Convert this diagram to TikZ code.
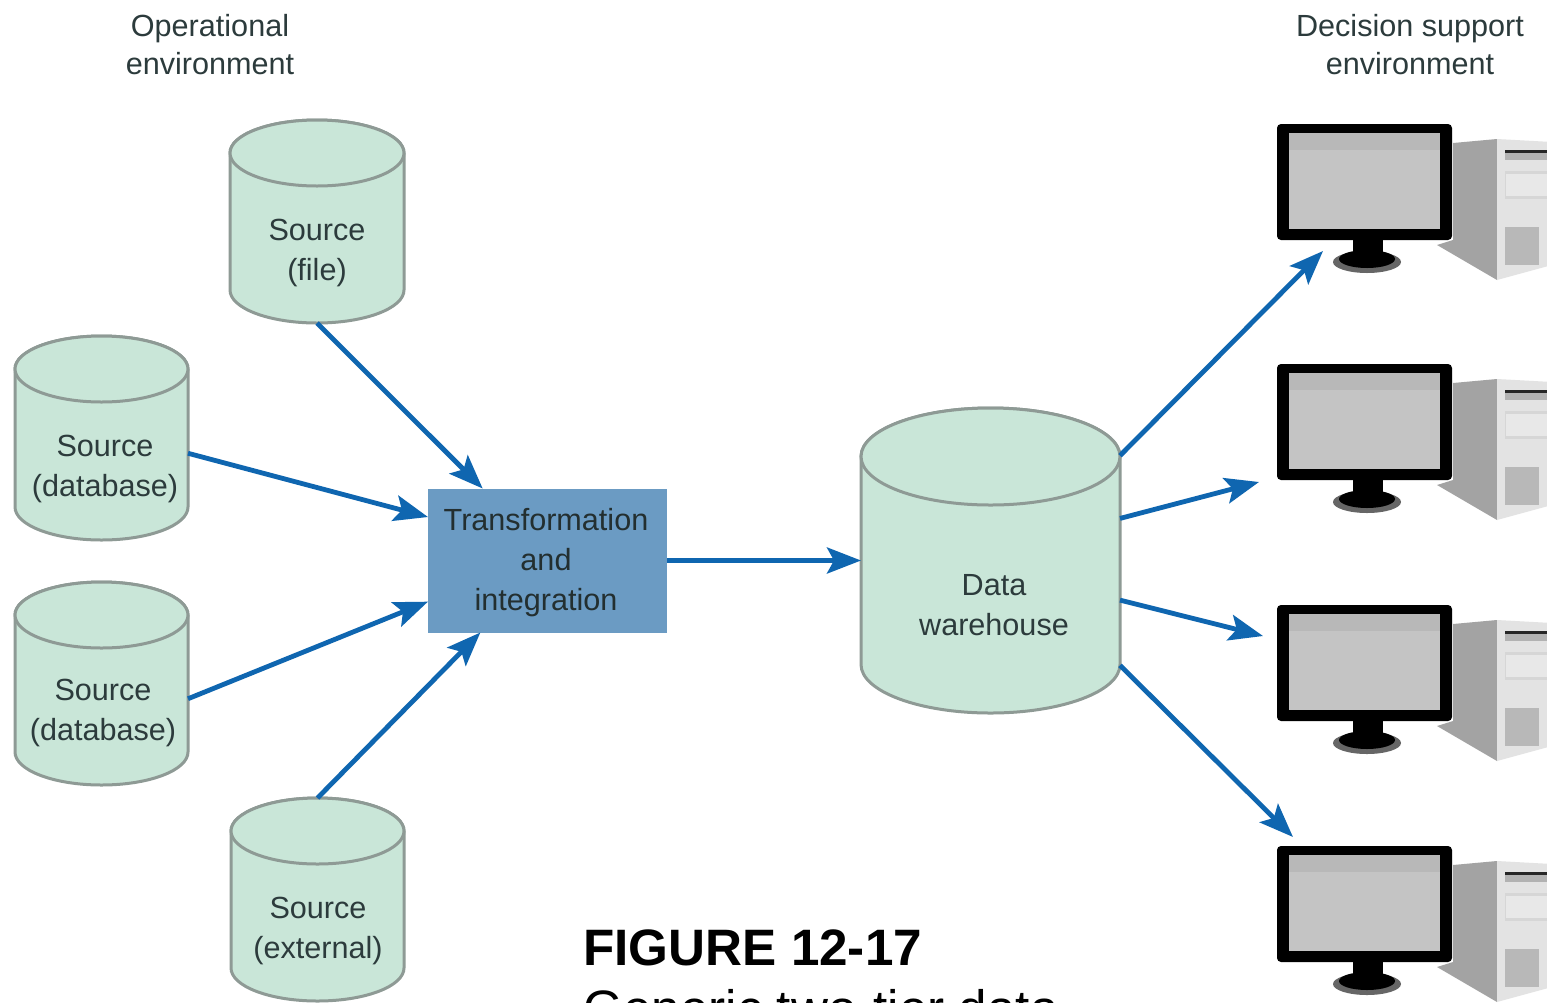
\documentclass[tikz,border=0pt]{standalone}
\usepackage{fontspec}
\setmainfont{Liberation Sans}
\usetikzlibrary{arrows.meta}
\definecolor{cylfill}{HTML}{C9E6D8}
\definecolor{cylline}{HTML}{8E9A95}
\definecolor{boxfill}{HTML}{6B9BC3}
\definecolor{arrowblue}{HTML}{0F66B0}
\definecolor{labeltext}{HTML}{2C3B3C}
\tikzset{
  x=0.5pt,y=-0.5pt,
  flow/.style={draw=arrowblue,line width=2.4pt,-{Stealth[length=17pt,width=13pt,inset=3.5pt]}},
  lbl/.style={font=\fontsize{15.3}{19}\selectfont,text=labeltext,align=center,inner sep=0pt},
  inlbl/.style={font=\fontsize{15.3}{20}\selectfont,text=labeltext,align=center,inner sep=0pt},
  cylbox/.style={inner sep=0pt,outer sep=0pt,draw=none},
  cylbody/.style={fill=cylfill,draw=cylline,line width=1.5pt},
  pcunit/.pic={
    % tower side
    \fill[black!36] (176,19) -- (220,15) -- (220,156) -- (160,121) -- (176,116) -- cycle;
    % tower front
    \fill[black!11] (220,15) -- (275,18) -- (275,141) -- (220,156) -- cycle;
    \fill[black!30] (228,26) rectangle (275,36);
    \fill[black!85] (228,25.5) rectangle (275,29);
    \fill[black!16] (228,47) rectangle (275,75);
    \fill[black!9]  (229,50) rectangle (275,72);
    \fill[black!28] (228,103) rectangle (262,141);
    % monitor
    \fill[black,rounded corners=2pt] (0,0) rectangle (175,116);
    \fill[black!23] (12,9) rectangle (163,105);
    \fill[black!28] (12,9) rectangle (163,26);
    % stand
    \fill[black!60] (90,138) ellipse [x radius=34,y radius=11];
    \fill[black] (90,135) ellipse [x radius=28,y radius=9];
    \fill[black] (76,116) rectangle (106,136);
  },
}
\newcommand{\cylinderunit}[7]{% name, x1, x2, ytop, ybot, ry, label
  \path[cylbody] (#2,#4+#6) -- (#2,#5-#6)
    arc[start angle=180,end angle=360,x radius={(#3-#2)/2},y radius=-#6]
    -- (#3,#4+#6)
    arc[start angle=0,end angle=180,x radius={(#3-#2)/2},y radius=-#6] -- cycle;
  \path[cylbody] ({(#2+#3)/2},#4+#6) ellipse [x radius={(#3-#2)/2},y radius=#6];
  \node[cylbox,minimum width={(#3-#2)*0.5pt},minimum height={(#5-#4)*0.5pt}] (#1) at ({(#2+#3)/2},{(#4+#5)/2}) {};
  \node[inlbl] (#1label) at #7;
}
\begin{document}
\begin{tikzpicture}
\path[use as bounding box] (0,0) rectangle (1547,1002);
\fill[white] (0,0) rectangle (1547,1002);
\clip (0,0) rectangle (1547,1002);

\node[lbl] (openv) at (210,45) {Operational\\environment};
\node[lbl] (dsenv) at (1410,45) {Decision support\\environment};

\cylinderunit{sa}{230}{404}{120}{323}{33}{(317,253) {Source\\(file)}}
\cylinderunit{sb}{15}{188}{336}{540}{33}{(105,469) {Source\\(database)}}
\cylinderunit{sc}{15}{188}{582}{785}{33}{(103,713) {Source\\(database)}}
\cylinderunit{sd}{231}{404}{798}{1001}{33}{(318,931) {Source\\(external)}}
\cylinderunit{dw}{861}{1120}{408}{713}{48.5}{(994,605) {Data\\warehouse}}

\node[fill=boxfill,draw=none,inner sep=0pt,outer sep=0pt,minimum width=119.5pt,minimum height=72pt] (tf) at (547.5,560.5) {};
\node[inlbl,text=labeltext!80!black] (tflabel) at (546,563) {Transformation\\and\\integration};

\pic (pca) at (1277,124) {pcunit};
\pic (pcb) at (1277,364) {pcunit};
\pic (pcc) at (1277,605) {pcunit};
\pic (pcd) at (1277,846) {pcunit};

\coordinate (ca) at (1323,251);
\coordinate (cb) at (1259,482);
\coordinate (cc) at (1263,636);
\coordinate (cd) at (1293,837);

\draw[flow] (sa.south) -- (tf.132.8);
\draw[flow] (sb.-10) -- (tf.160.6);
\draw[flow] (sc.-10) -- (tf.199.8);
\draw[flow] (sd.north) -- (tf.227.2);
\draw[flow] (tf.east) -- (dw.west);
\draw[flow] (dw.39.7) -- (ca);
\draw[flow] (dw.18.4) -- (cb);
\draw[flow] (dw.-17) -- (cc);
\draw[flow] (dw.-39.4) -- (cd);

\node[anchor=base west,inner sep=0pt,font=\fontsize{25.6}{25.6}\selectfont\bfseries,text=black] (figno) at (583,965) {FIGURE 12-17};
\node[anchor=base west,inner sep=0pt,font=\fontsize{25.6}{25.6}\selectfont,text=black] (figcap) at (583,1026) {Generic two-tier data};
\end{tikzpicture}
\end{document}
